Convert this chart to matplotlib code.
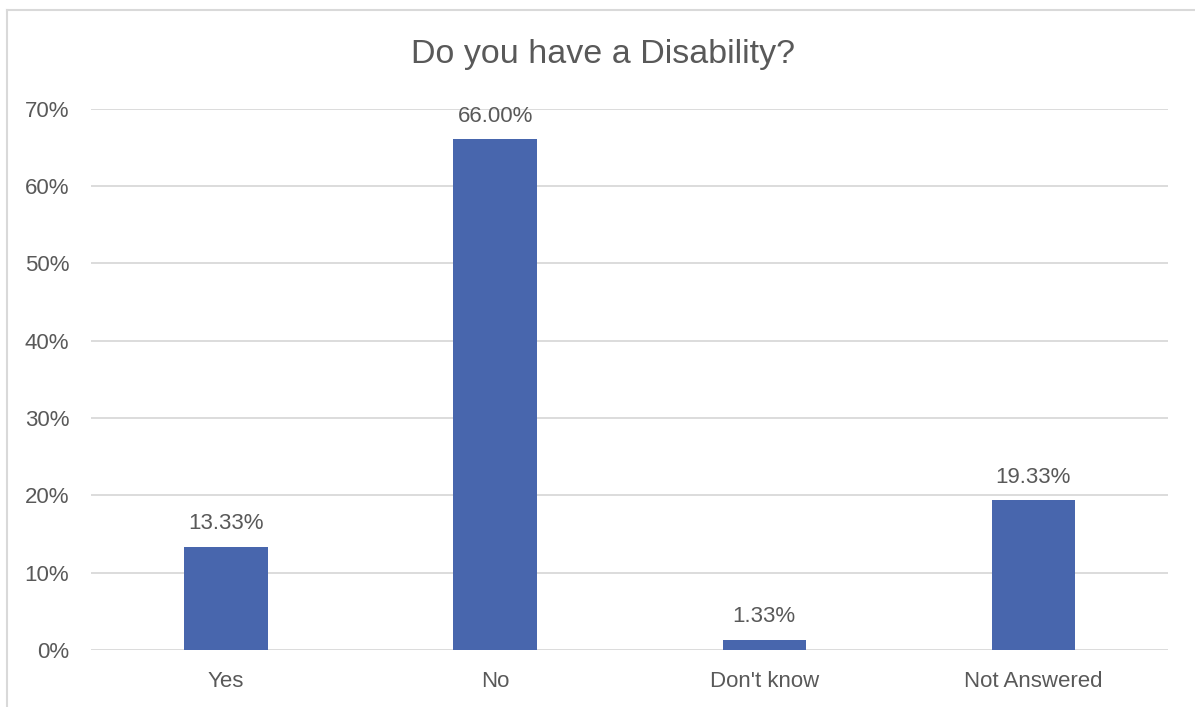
import matplotlib.pyplot as plt
from matplotlib.ticker import PercentFormatter
from matplotlib.lines import Line2D

categories = ['Yes', 'No', "Don't know", 'Not Answered']
values = [13.33, 66.00, 1.33, 19.33]
yticks = [0, 10, 20, 30, 40, 50, 60, 70]

text_color = '#595959'
bar_color = '#4866AD'
grid_color = '#D9D9D9'

plt.rcParams['font.family'] = ['Liberation Sans', 'DejaVu Sans']

fig = plt.figure(figsize=(11.95, 7.07), dpi=100)
ax = fig.add_axes([0.0765, 0.0806, 0.9009, 0.7659])

# outer chart border (left and top visible)
fig.add_artist(Line2D([7 / 1195, 7 / 1195], [0, 1 - 10 / 707], color='#D9D9D9', lw=1.5))
fig.add_artist(Line2D([7 / 1195, 1], [1 - 10 / 707, 1 - 10 / 707], color='#D9D9D9', lw=1.5))

x = range(len(categories))
bars = ax.bar(x, values, width=0.31, color=bar_color, zorder=3)
for xi, v in zip(x, values):
    ax.annotate(f'{v:.2f}%', (xi, v), xytext=(0, 9), textcoords='offset points',
                ha='center', va='bottom', fontsize=16, color=text_color)

ax.set_xlim(-0.5, len(categories) - 0.5)
ax.set_ylim(0, 70)
ax.set_yticks(yticks)
ax.yaxis.set_major_formatter(PercentFormatter(decimals=0))
ax.set_xticks(list(x))
ax.set_xticklabels(categories)
ax.tick_params(axis='both', length=0, labelsize=16, colors=text_color)
ax.tick_params(axis='y', pad=16)
ax.tick_params(axis='x', pad=15)
ax.grid(axis='y', color=grid_color, linewidth=1.3, zorder=0)
for s in ax.spines.values():
    s.set_visible(False)

fig.text(603 / 1195, 1 - 55 / 707, 'Do you have a Disability?', ha='center', va='center',
         fontsize=24.5, color=text_color)

plt.savefig('out.png', dpi=100)
